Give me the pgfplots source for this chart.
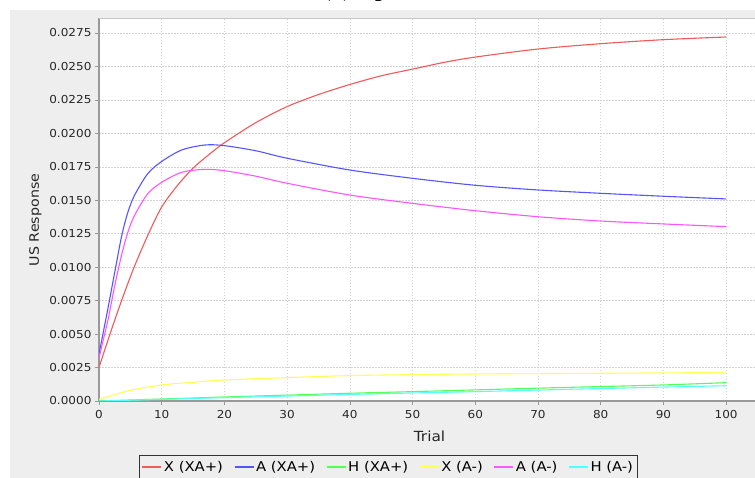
\documentclass[border=0pt]{standalone}
\usepackage{pgfplots}
\pgfplotsset{compat=1.18}
\usepackage{fontspec}
\setmainfont[FakeStretch=1.1]{DejaVu Sans}
\newfontfamily\titlefont{Liberation Serif}
\definecolor{bggray}{RGB}{238,238,238}
\definecolor{jred}{RGB}{240,90,90}
\definecolor{jblue}{RGB}{85,85,255}
\definecolor{jgreen}{RGB}{85,255,85}
\definecolor{jyellow}{RGB}{255,255,85}
\definecolor{jmag}{RGB}{255,85,255}
\definecolor{jcyan}{RGB}{85,255,255}
\pgfplotsset{limg/.style={color=#1, draw=#1, legend image code/.code={\draw[color=#1, line width=1.1bp] (0bp,0bp) -- (19bp,0bp);}}}
\begin{document}
\begin{tikzpicture}
\useasboundingbox (0,0) rectangle (755bp,478bp);
\path[clip] (0,0) rectangle (755bp,478bp);
\fill[bggray] (10bp,-10bp) rectangle (770bp,468bp);
\node[anchor=base west, font=\titlefont\fontsize{28}{30}\selectfont] at (318bp,482bp) {(a) Spatial};
\begin{axis}[
  at={(99bp,77bp)}, anchor=south west, scale only axis,
  width=661bp, height=383bp,
  xmin=0, xmax=105.4, ymin=0, ymax=0.02862,
  axis background/.style={fill=white},
  axis lines*=left,
  axis line style={draw=gray!80, line width=1.2bp},
  xtick={0,10,20,30,40,50,60,70,80,90,100},
  ytick={0,0.0025,0.005,0.0075,0.01,0.0125,0.015,0.0175,0.02,0.0225,0.025,0.0275},
  yticklabels={0.0000,0.0025,0.0050,0.0075,0.0100,0.0125,0.0150,0.0175,0.0200,0.0225,0.0250,0.0275},
  scaled y ticks=false,
  tick align=outside, major tick length=4bp,
  tick style={draw=gray!80, line width=0.6bp},
  grid=major,
  major grid style={draw=gray!35, dash pattern=on 1.5bp off 1.5bp, line width=0.6bp},
  tick label style={font=\fontsize{11}{13}\selectfont, text=black!85},
  /pgf/number format/assume math mode=true,
  xticklabel style={yshift=-2bp},
  xlabel={Trial},
  xlabel style={font=\fontsize{14}{16}\selectfont, at={(axis description cs:0.5,-0.107)}, anchor=base, text=black!85},
  ylabel={US Response},
  ylabel style={font=\fontsize{13}{15}\selectfont, at={(axis description cs:-0.0961,0.4726)}, anchor=center, text=black!85},
  legend columns=6,
  legend style={name=leg, at={(axis description cs:0.4379,-0.141)}, anchor=north,
    draw=none, fill=bggray,
    font=\fontsize{13.5}{15}\selectfont, inner ysep=4bp, inner xsep=2bp,
    /tikz/every even column/.append style={column sep=9bp}},
  every axis plot/.append style={line width=1.1bp, smooth, no markers},
]
\addplot[limg=jred] coordinates {(0,0.0025)(1.75,0.005)(3.6,0.0075)(5.6,0.01)(7.9,0.0125)(10,0.0145)(12.5,0.0161)(15,0.0174)(17.5,0.0184)(20,0.0193)(25,0.0208)(30,0.0220)(35,0.0229)(40,0.02365)(45,0.0243)(50,0.0248)(55,0.0253)(60,0.0257)(70,0.0263)(80,0.0267)(90,0.0270)(100,0.0272)};
\addlegendentry{X (XA+)}
\addplot[limg=jblue] coordinates {(0,0.0035)(0.75,0.0053)(1.5,0.0071)(2.5,0.0096)(3.6,0.0123)(4.6,0.0141)(5.7,0.0154)(7.8,0.0170)(10,0.0179)(13.2,0.01876)(16.9,0.01913)(20,0.01908)(25,0.0187)(30,0.01814)(40,0.01726)(50,0.01664)(60,0.01612)(70,0.01577)(80,0.01552)(90,0.0153)(100,0.0151)};
\addlegendentry{A (XA+)}
\addplot[limg=jgreen] coordinates {(0,0)(10,0.00015)(20,0.0003)(30,0.00044)(40,0.00058)(50,0.0007)(60,0.00083)(70,0.00096)(80,0.00108)(90,0.0012)(100,0.00137)};
\addlegendentry{H (XA+)}
\addplot[limg=jyellow] coordinates {(0,0.00013)(2,0.0004)(5,0.0008)(10,0.0012)(15,0.0014)(20,0.00157)(30,0.00175)(40,0.0019)(50,0.00197)(60,0.00202)(70,0.00205)(80,0.00207)(90,0.0021)(100,0.00212)};
\addlegendentry{X (A-)}
\addplot[limg=jmag] coordinates {(0,0.0032)(0.75,0.0047)(1.5,0.0062)(2.5,0.0086)(3.6,0.0109)(4.6,0.0126)(5.7,0.0139)(7.8,0.0155)(10,0.01634)(13.2,0.01709)(16.9,0.01731)(20,0.01721)(25,0.0168)(30,0.01627)(40,0.01539)(50,0.01477)(60,0.01422)(70,0.01377)(80,0.01345)(90,0.01323)(100,0.01303)};
\addlegendentry{A (A-)}
\addplot[limg=jcyan] coordinates {(0,0)(10,0.00012)(20,0.00025)(30,0.00037)(40,0.00049)(50,0.0006)(60,0.0007)(70,0.00082)(80,0.00093)(90,0.00104)(100,0.00114)};
\addlegendentry{H (A-)}
\draw[gray!45, line width=0.8bp] (rel axis cs:0,1) -- (rel axis cs:1,1);
\end{axis}
\draw[gray!40!black, line width=0.8bp] (leg.south west) rectangle (leg.north east);
\end{tikzpicture}
\end{document}
